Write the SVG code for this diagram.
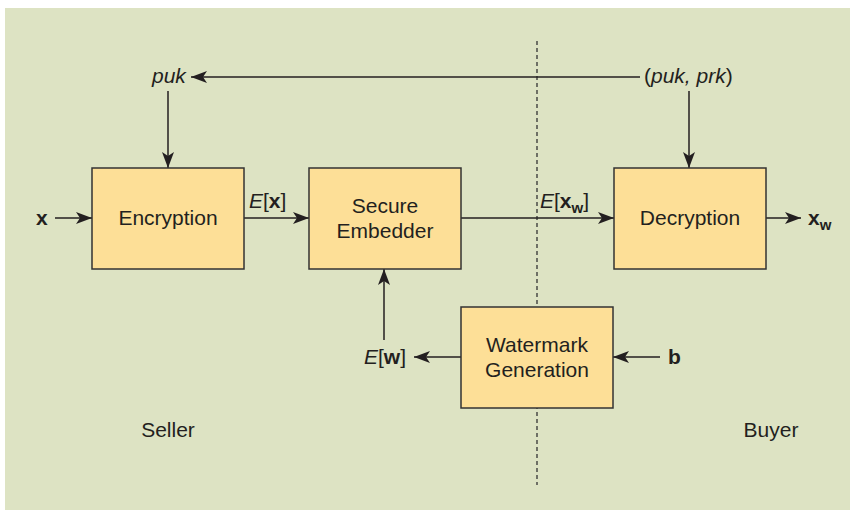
<svg xmlns="http://www.w3.org/2000/svg" width="850" height="511" viewBox="0 0 850 511">
<style>
text{font-family:"Liberation Sans",Arial,sans-serif;font-size:21px;fill:#231f20}
.box{fill:#fddf97;stroke:#333;stroke-width:1.5}
.c{text-anchor:middle}
.it{font-style:italic}
.b{font-weight:bold}
.ln{stroke:#231f20;stroke-width:1.5;fill:none}
</style>
<defs>
<marker id="ah" markerWidth="16" markerHeight="12" refX="16" refY="6" orient="auto" markerUnits="userSpaceOnUse">
<path d="M0,0 L16,6 L0,12 L4,6 Z" fill="#231f20"/>
</marker>
</defs>
<rect x="5" y="8" width="845" height="502" fill="#dde3c3"/>
<line x1="537" y1="41" x2="537" y2="485" stroke="#333" stroke-width="1.3" stroke-dasharray="4,3"/>
<g id="connectors">
<line class="ln" x1="640" y1="77" x2="191" y2="77" marker-end="url(#ah)"/>
<line class="ln" x1="168" y1="91" x2="168" y2="168" marker-end="url(#ah)"/>
<line class="ln" x1="689" y1="91" x2="689" y2="168" marker-end="url(#ah)"/>
<line class="ln" x1="55" y1="218" x2="92" y2="218" marker-end="url(#ah)"/>
<line class="ln" x1="244" y1="218" x2="309" y2="218" marker-end="url(#ah)"/>
<line class="ln" x1="461" y1="218" x2="614" y2="218" marker-end="url(#ah)"/>
<line class="ln" x1="766" y1="218" x2="801" y2="218" marker-end="url(#ah)"/>
<line class="ln" x1="461" y1="357" x2="414" y2="357" marker-end="url(#ah)"/>
<line class="ln" x1="384" y1="340" x2="384" y2="269" marker-end="url(#ah)"/>
<line class="ln" x1="660" y1="357" x2="613" y2="357" marker-end="url(#ah)"/>
</g>
<g id="encryption"><rect class="box" x="92" y="168" width="152" height="101"/><text class="c" x="168" y="225">Encryption</text></g>
<g id="embedder"><rect class="box" x="309" y="168" width="152" height="101"/><text class="c" x="385" y="213">Secure</text><text class="c" x="385" y="238">Embedder</text></g>
<g id="decryption"><rect class="box" x="614" y="168" width="152" height="101"/><text class="c" x="690" y="225">Decryption</text></g>
<g id="watermark"><rect class="box" x="461" y="307" width="152" height="101"/><text class="c" x="537" y="352">Watermark</text><text class="c" x="537" y="377">Generation</text></g>
<g id="labels">
<text class="it" x="152" y="83">puk</text>
<text x="644" y="83">(<tspan class="it">puk, prk</tspan>)</text>
<text class="b" x="36" y="225">x</text>
<text x="249" y="208"><tspan class="it">E</tspan>[<tspan class="b">x</tspan>]</text>
<text x="540" y="208"><tspan class="it">E</tspan>[<tspan class="b">x<tspan font-size="15" dy="5">w</tspan></tspan><tspan dy="-5">]</tspan></text>
<text class="b" x="808" y="225">x<tspan font-size="15" dy="5">w</tspan></text>
<text x="364" y="364"><tspan class="it">E</tspan>[<tspan class="b">w</tspan>]</text>
<text class="b" x="668" y="364">b</text>
<text class="c" x="168" y="437">Seller</text>
<text class="c" x="771" y="437">Buyer</text>
</g>
</svg>
